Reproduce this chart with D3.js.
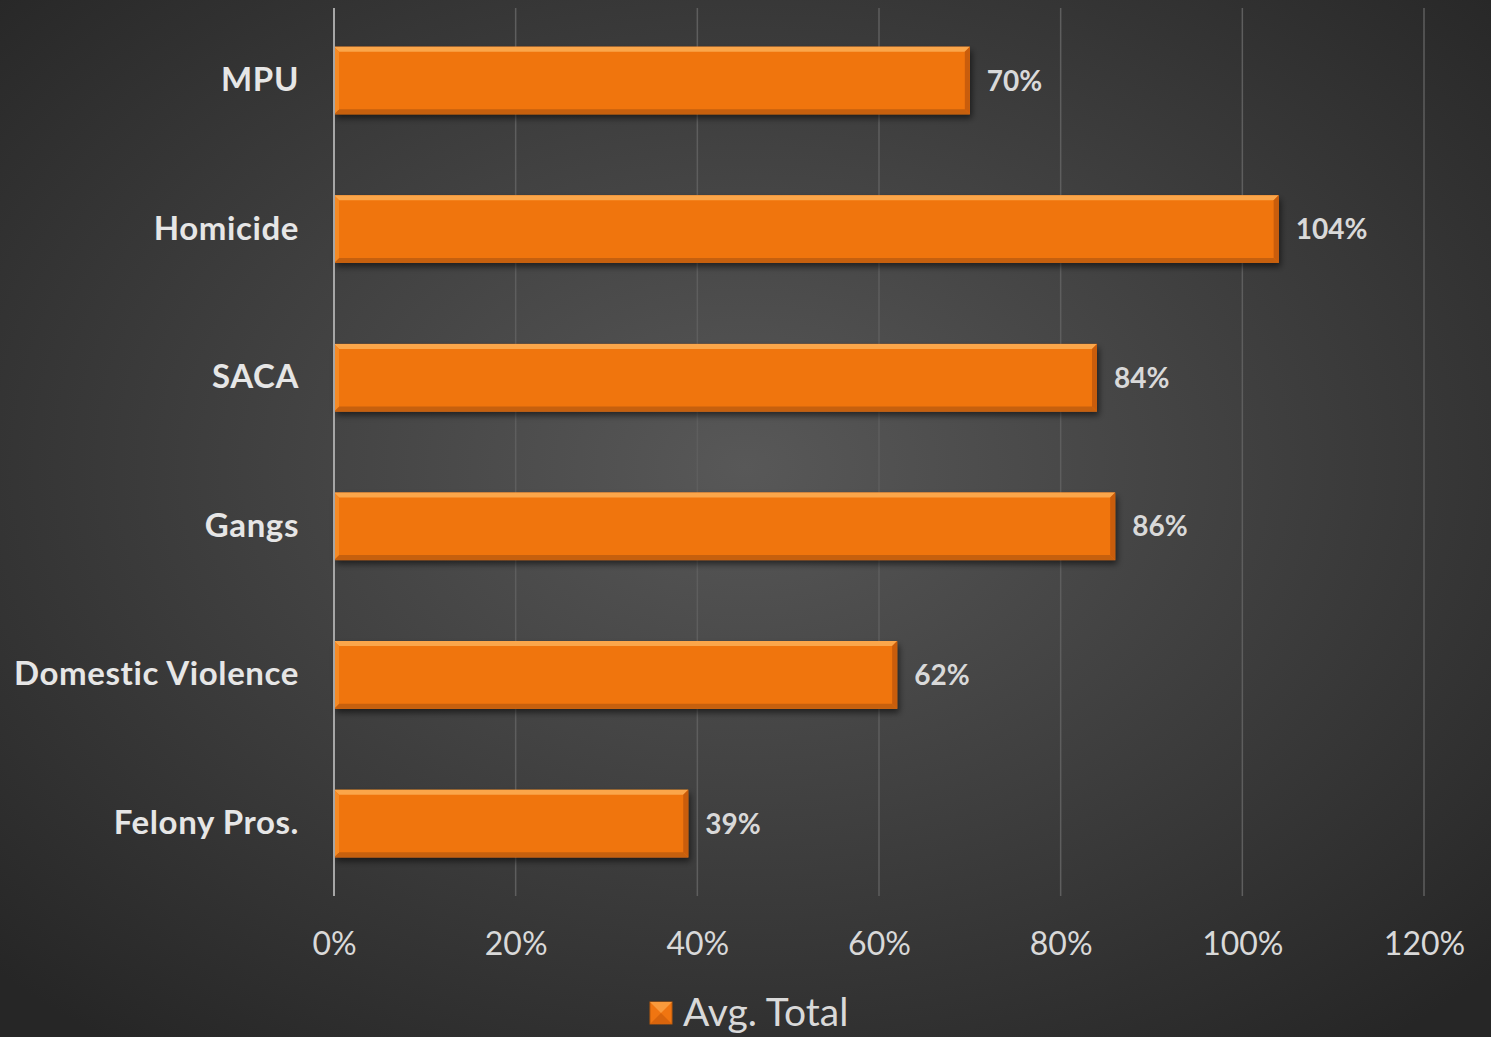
<!DOCTYPE html>
<html>
<head>
<meta charset="utf-8">
<script src="https://cdn.jsdelivr.net/npm/d3@7"></script>
<style>
  html, body { margin: 0; padding: 0; background: #333; }
  svg { display: block; }
</style>
</head>
<body>
<svg id="chart"></svg>
<script>
var categories = ['MPU', 'Homicide', 'SACA', 'Gangs', 'Domestic Violence', 'Felony Pros.'];
var avgTotal = [70, 104, 84, 86, 62, 39];
var tickValues = [0, 20, 40, 60, 80, 100, 120];
var seriesName = 'Avg. Total';

var width = 1491, height = 1037;
var margin = { top: 8, right: 67, bottom: 141, left: 334 };
var font = 'Lato, "Open Sans", sans-serif';

var svg = d3.select('#chart')
  .attr('width', width)
  .attr('height', height);

var defs = svg.append('defs');

var bg = defs.append('radialGradient')
  .attr('id', 'bg')
  .attr('cx', '50%').attr('cy', '45%').attr('r', '70%');
bg.append('stop').attr('offset', '0%').attr('stop-color', '#585858');
bg.append('stop').attr('offset', '100%').attr('stop-color', '#262626');

var shadow = defs.append('filter').attr('id', 'shadow')
  .attr('x', '-5%').attr('y', '-20%').attr('width', '110%').attr('height', '150%');
shadow.append('feDropShadow')
  .attr('dx', 2).attr('dy', 4).attr('stdDeviation', 3)
  .attr('flood-color', '#000').attr('flood-opacity', 0.55);

svg.append('rect')
  .attr('width', width).attr('height', height)
  .attr('fill', 'url(#bg)');

var x = d3.scaleLinear()
  .domain([0, 120])
  .range([margin.left, width - margin.right]);

var y = d3.scaleBand()
  .domain(categories)
  .range([margin.top, height - margin.bottom])
  .paddingInner(0.545)
  .paddingOuter(0.26);

// gridlines
svg.append('g')
  .selectAll('line')
  .data(tickValues.slice(1))
  .enter()
  .append('line')
  .attr('x1', d => x(d)).attr('x2', d => x(d))
  .attr('y1', margin.top).attr('y2', height - margin.bottom)
  .attr('stroke', '#5e5e5e')
  .attr('stroke-width', 1.5);

// x axis labels
var xAxis = d3.axisBottom(x)
  .tickValues(tickValues)
  .tickFormat(d => d + '%')
  .tickSize(0)
  .tickPadding(0);

svg.append('g')
  .attr('transform', 'translate(0,' + (height - margin.bottom + 36) + ')')
  .call(xAxis)
  .call(g => g.select('.domain').remove())
  .selectAll('text')
  .attr('fill', '#d9d9d9')
  .attr('font-family', font)
  .attr('font-size', 32);

// bars
var bev = 5;
function bevelParts(d, i) {
  var x0 = x(0), x1 = x(d), y0 = y(categories[i]), y1 = y0 + y.bandwidth();
  return [
    { pts: [[x0, y0], [x1, y0], [x1 - bev, y0 + bev], [x0 + bev, y0 + bev]], fill: '#fba64a' },
    { pts: [[x1, y0], [x1, y1], [x1 - bev, y1 - bev], [x1 - bev, y0 + bev]], fill: '#c95d0c' },
    { pts: [[x0, y1], [x1, y1], [x1 - bev, y1 - bev], [x0 + bev, y1 - bev]], fill: '#c6600e' },
    { pts: [[x0, y0], [x0 + bev, y0 + bev], [x0 + bev, y1 - bev], [x0, y1]], fill: '#f58a25' }
  ];
}

var bars = svg.append('g')
  .selectAll('g')
  .data(avgTotal)
  .enter()
  .append('g');

bars.append('rect')
  .attr('x', x(0))
  .attr('y', (d, i) => y(categories[i]))
  .attr('width', d => x(d) - x(0))
  .attr('height', y.bandwidth())
  .attr('fill', '#f07511')
  .attr('filter', 'url(#shadow)');

bars.each(function (d, i) {
  d3.select(this).selectAll('polygon')
    .data(bevelParts(d, i))
    .enter()
    .append('polygon')
    .attr('points', p => p.pts.map(q => q.join(',')).join(' '))
    .attr('fill', p => p.fill);
});

// value labels
bars.append('text')
  .attr('x', d => x(d) + 17)
  .attr('y', (d, i) => y(categories[i]) + y.bandwidth() / 2)
  .attr('dy', '0.36em')
  .attr('fill', '#d9d9d9')
  .attr('font-family', font)
  .attr('font-weight', 'bold')
  .attr('font-size', 28)
  .text(d => d + '%');

// y axis
var yAxis = d3.axisLeft(y).tickSize(0).tickPadding(35);
svg.append('g')
  .attr('transform', 'translate(' + margin.left + ',0)')
  .call(yAxis)
  .call(g => g.select('.domain').remove())
  .selectAll('text')
  .attr('fill', '#e6e6e6')
  .attr('font-family', font)
  .attr('font-weight', 'bold')
  .attr('font-size', 33)
  .attr('letter-spacing', 0.6);

svg.append('line')
  .attr('x1', x(0)).attr('x2', x(0))
  .attr('y1', margin.top).attr('y2', height - margin.bottom)
  .attr('stroke', '#a6a6a6')
  .attr('stroke-width', 2);

// legend
var legend = svg.append('g').attr('transform', 'translate(650,1002)');
legend.append('rect')
  .attr('width', 22).attr('height', 22)
  .attr('fill', '#f07511')
  .attr('stroke', '#b85a0c');
legend.append('polygon')
  .attr('points', '0,0 22,0 11,11')
  .attr('fill', '#f99a3c');
legend.append('polygon')
  .attr('points', '0,22 22,22 11,11')
  .attr('fill', '#d8640c');
legend.append('text')
  .attr('x', 33).attr('y', 11)
  .attr('dy', '0.34em')
  .attr('fill', '#d9d9d9')
  .attr('font-family', font)
  .attr('font-size', 39)
  .text(seriesName);
</script>
</body>
</html>
